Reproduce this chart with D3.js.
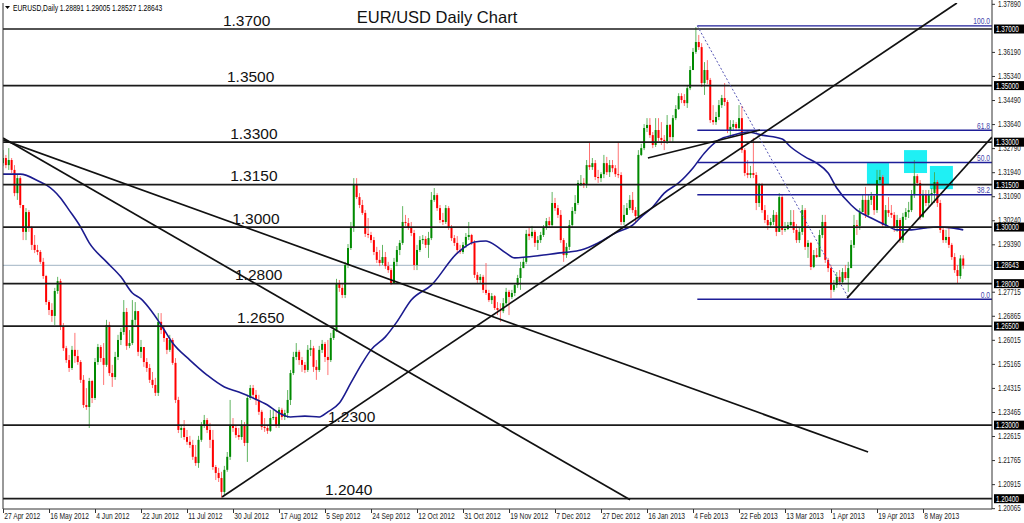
<!DOCTYPE html>
<html><head><meta charset="utf-8">
<script src="https://cdn.jsdelivr.net/npm/d3@7"></script>
<style>body{margin:0;background:#fff;overflow:hidden}svg{display:block}text{font-family:"Liberation Sans",Arial,sans-serif}</style>
</head><body><svg id="c" width="1024" height="523"></svg>
<script>
// ---------------- DATA ----------------
const firstOpen = 1.3226;
const closes = [
1.3244,1.3219,1.3237,1.3202,1.3120,1.3173,1.3078,1.2983,1.3053,1.2997,
1.2937,1.2919,1.2912,1.2877,1.2827,1.2735,1.2707,1.2686,1.2774,1.2809,
1.2647,1.2572,1.2530,1.2502,1.2566,1.2544,1.2523,1.2460,1.2371,1.2364,
1.2456,1.2396,1.2523,1.2576,1.2537,1.2513,1.2654,1.2484,1.2470,1.2541,
1.2601,1.2629,1.2700,1.2580,1.2590,1.2672,1.2703,1.2559,1.2576,1.2523,
1.2502,1.2460,1.2442,1.2414,1.2665,1.2636,1.2608,1.2566,1.2601,1.2520,
1.2389,1.2283,1.2290,1.2258,1.2241,1.2230,1.2188,1.2166,1.2248,1.2301,
1.2318,1.2283,1.2248,1.2152,1.2131,1.2113,1.2064,1.2142,1.2188,1.2301,
1.2290,1.2265,1.2258,1.2301,1.2237,1.2396,1.2431,1.2407,1.2389,1.2347,
1.2294,1.2290,1.2280,1.2325,1.2329,1.2297,1.2354,1.2329,1.2343,1.2389,
1.2484,1.2541,1.2559,1.2530,1.2513,1.2495,1.2566,1.2572,1.2506,1.2495,
1.2566,1.2587,1.2541,1.2530,1.2608,1.2636,1.2802,1.2785,1.2760,1.2866,
1.2926,1.2997,1.3149,1.3106,1.3078,1.3050,1.2976,1.2972,1.2954,1.2912,
1.2884,1.2873,1.2894,1.2862,1.2848,1.2802,1.2877,1.2919,1.2944,1.3018,
1.3014,1.3000,1.2979,1.2866,1.2919,1.2954,1.2958,1.2937,1.2961,1.3096,
1.3113,1.3067,1.3025,1.3018,1.3067,1.3000,1.2961,1.2944,1.2919,1.2912,
1.2937,1.2965,1.2972,1.2944,1.2831,1.2813,1.2824,1.2778,1.2767,1.2742,
1.2756,1.2714,1.2707,1.2703,1.2731,1.2771,1.2753,1.2767,1.2795,1.2820,
1.2855,1.2877,1.2976,1.2968,1.2983,1.2944,1.2954,1.2972,1.2997,1.3021,
1.3007,1.3085,1.3067,1.3043,1.2954,1.2901,1.2930,1.3007,1.3057,1.3085,
1.3156,1.3156,1.3149,1.3219,1.3212,1.3226,1.3177,1.3173,1.3187,1.3226,
1.3194,1.3219,1.3208,1.3187,1.3184,1.3018,1.3043,1.3067,1.3096,1.3060,
1.3039,1.3255,1.3279,1.3350,1.3361,1.3325,1.3290,1.3343,1.3315,1.3308,
1.3304,1.3361,1.3318,1.3385,1.3417,1.3463,1.3449,1.3438,1.3491,1.3555,
1.3619,1.3654,1.3636,1.3509,1.3555,1.3520,1.3378,1.3371,1.3389,1.3431,
1.3456,1.3442,1.3343,1.3354,1.3364,1.3350,1.3385,1.3272,1.3191,1.3184,
1.3191,1.3184,1.3085,1.3149,1.3060,1.3025,1.3007,1.3018,1.3043,1.2983,
1.3106,1.2990,1.2993,1.3007,1.3018,1.2990,1.2954,1.2983,1.3060,1.2930,
1.2944,1.2859,1.2901,1.2894,1.2972,1.3018,1.2884,1.2855,1.2778,1.2795,
1.2824,1.2806,1.2841,1.2820,1.2855,1.2937,1.3007,1.3004,1.3053,1.3096,
1.3043,1.3096,1.3110,1.3060,1.3166,1.3177,1.3007,1.3060,1.3050,1.3043,
1.2997,1.3025,1.2954,1.3036,1.3053,1.3060,1.3113,1.3180,1.3156,1.3036,
1.3117,1.3085,1.3113,1.3120,1.3159,1.3085,1.2990,1.2954,1.2965,1.2937,
1.2894,1.2848,1.2827,1.2889,1.28643];
const highs = [
1.3272,1.3255,1.3279,1.3244,1.3219,1.3184,1.3180,1.3078,1.3067,1.3060,
1.3004,1.2972,1.2937,1.2919,1.2891,1.2831,1.2742,1.2731,1.2785,1.2824,
1.2817,1.2661,1.2580,1.2548,1.2580,1.2626,1.2566,1.2530,1.2477,1.2431,
1.2467,1.2460,1.2537,1.2587,1.2583,1.2590,1.2672,1.2665,1.2513,1.2559,
1.2619,1.2643,1.2742,1.2714,1.2636,1.2742,1.2735,1.2696,1.2601,1.2559,
1.2537,1.2516,1.2488,1.2467,1.2696,1.2696,1.2654,1.2605,1.2619,1.2608,
1.2537,1.2400,1.2301,1.2318,1.2283,1.2262,1.2248,1.2230,1.2262,1.2311,
1.2336,1.2325,1.2308,1.2283,1.2159,1.2149,1.2135,1.2156,1.2205,1.2389,
1.2325,1.2297,1.2290,1.2318,1.2311,1.2407,1.2442,1.2442,1.2424,1.2407,
1.2354,1.2325,1.2297,1.2354,1.2354,1.2347,1.2364,1.2361,1.2354,1.2424,
1.2495,1.2559,1.2590,1.2566,1.2541,1.2523,1.2583,1.2601,1.2580,1.2530,
1.2580,1.2601,1.2594,1.2601,1.2626,1.2647,1.2817,1.2813,1.2802,1.2877,
1.2940,1.3018,1.3173,1.3173,1.3120,1.3096,1.3060,1.3032,1.2983,1.2965,
1.2930,1.2919,1.2937,1.2912,1.2877,1.2855,1.2891,1.2933,1.2954,1.3074,
1.3043,1.3032,1.3018,1.2990,1.2937,1.2968,1.2972,1.2968,1.2983,1.3124,
1.3138,1.3120,1.3078,1.3050,1.3078,1.3074,1.3007,1.2972,1.2968,1.2937,
1.2947,1.2979,1.3018,1.2976,1.2954,1.2841,1.2834,1.2831,1.2873,1.2778,
1.2767,1.2760,1.2735,1.2731,1.2749,1.2785,1.2778,1.2778,1.2802,1.2831,
1.2877,1.2891,1.2990,1.2997,1.3004,1.2990,1.2968,1.2983,1.3007,1.3032,
1.3036,1.3124,1.3103,1.3078,1.3060,1.2961,1.2944,1.3025,1.3071,1.3113,
1.3166,1.3184,1.3173,1.3237,1.3301,1.3244,1.3237,1.3202,1.3194,1.3255,
1.3248,1.3237,1.3237,1.3219,1.3297,1.3194,1.3078,1.3085,1.3113,1.3124,
1.3071,1.3272,1.3294,1.3364,1.3385,1.3385,1.3336,1.3385,1.3385,1.3371,
1.3325,1.3396,1.3364,1.3396,1.3431,1.3473,1.3473,1.3470,1.3502,1.3569,
1.3633,1.3707,1.3679,1.3650,1.3583,1.3590,1.3527,1.3431,1.3407,1.3449,
1.3467,1.3509,1.3449,1.3378,1.3378,1.3371,1.3431,1.3428,1.3279,1.3237,
1.3216,1.3315,1.3194,1.3156,1.3156,1.3078,1.3043,1.3032,1.3060,1.3053,
1.3120,1.3113,1.3018,1.3018,1.3060,1.3060,1.3011,1.2997,1.3078,1.3067,
1.2954,1.2947,1.2919,1.2926,1.2990,1.3043,1.3043,1.2891,1.2866,1.2813,
1.2841,1.2848,1.2855,1.2866,1.2877,1.2954,1.3043,1.3025,1.3067,1.3113,
1.3142,1.3113,1.3124,1.3117,1.3202,1.3202,1.3184,1.3078,1.3106,1.3078,
1.3053,1.3043,1.3032,1.3050,1.3067,1.3089,1.3131,1.3237,1.3187,1.3166,
1.3131,1.3131,1.3131,1.3138,1.3194,1.3166,1.3096,1.2997,1.2990,1.2997,
1.2944,1.2908,1.2866,1.2901,1.29005];
const lows = [
1.3215,1.3208,1.3202,1.3191,1.3109,1.3096,1.3067,1.2954,1.2954,1.2983,
1.2919,1.2908,1.2901,1.2870,1.2817,1.2725,1.2689,1.2665,1.2654,1.2764,
1.2636,1.2562,1.2520,1.2488,1.2495,1.2520,1.2513,1.2449,1.2361,1.2354,
1.2290,1.2378,1.2389,1.2513,1.2523,1.2442,1.2506,1.2474,1.2435,1.2460,
1.2530,1.2583,1.2619,1.2566,1.2572,1.2583,1.2654,1.2544,1.2537,1.2506,
1.2488,1.2449,1.2431,1.2403,1.2403,1.2622,1.2594,1.2551,1.2559,1.2513,
1.2378,1.2272,1.2255,1.2248,1.2230,1.2219,1.2177,1.2156,1.2149,1.2241,
1.2290,1.2272,1.2219,1.2142,1.2106,1.2099,1.2043,1.2053,1.2135,1.2177,
1.2276,1.2255,1.2248,1.2248,1.2226,1.2170,1.2389,1.2396,1.2371,1.2336,
1.2283,1.2276,1.2269,1.2276,1.2318,1.2290,1.2290,1.2318,1.2318,1.2325,
1.2371,1.2477,1.2530,1.2513,1.2488,1.2484,1.2488,1.2544,1.2488,1.2460,
1.2488,1.2555,1.2523,1.2477,1.2523,1.2601,1.2629,1.2771,1.2749,1.2749,
1.2855,1.2919,1.2983,1.3099,1.3067,1.3043,1.2965,1.2961,1.2944,1.2901,
1.2873,1.2862,1.2866,1.2852,1.2838,1.2795,1.2799,1.2862,1.2901,1.2937,
1.3004,1.2990,1.2968,1.2848,1.2848,1.2912,1.2940,1.2926,1.2891,1.2954,
1.3089,1.3057,1.3014,1.3007,1.3011,1.2990,1.2951,1.2933,1.2908,1.2905,
1.2905,1.2926,1.2954,1.2937,1.2820,1.2802,1.2802,1.2767,1.2760,1.2735,
1.2728,1.2707,1.2689,1.2665,1.2696,1.2725,1.2689,1.2746,1.2756,1.2785,
1.2778,1.2855,1.2870,1.2954,1.2961,1.2930,1.2919,1.2944,1.2965,1.2990,
1.3000,1.3000,1.3057,1.3032,1.2944,1.2877,1.2891,1.2919,1.3000,1.3046,
1.3078,1.3145,1.3138,1.3138,1.3202,1.3202,1.3166,1.3156,1.3159,1.3173,
1.3184,1.3177,1.3194,1.3177,1.3173,1.3007,1.3007,1.3043,1.3060,1.3050,
1.3018,1.3032,1.3251,1.3272,1.3336,1.3315,1.3279,1.3283,1.3304,1.3290,
1.3272,1.3294,1.3301,1.3301,1.3378,1.3414,1.3438,1.3428,1.3421,1.3484,
1.3555,1.3612,1.3626,1.3495,1.3467,1.3505,1.3368,1.3361,1.3361,1.3378,
1.3421,1.3428,1.3332,1.3318,1.3343,1.3339,1.3339,1.3262,1.3180,1.3173,
1.3173,1.3173,1.3060,1.3071,1.3050,1.3014,1.2990,1.2997,1.3007,1.2968,
1.2983,1.2972,1.2983,1.2990,1.2997,1.2979,1.2944,1.2944,1.2972,1.2919,
1.2891,1.2848,1.2855,1.2891,1.2894,1.2961,1.2873,1.2841,1.2749,1.2771,
1.2785,1.2795,1.2799,1.2813,1.2771,1.2855,1.2926,1.2972,1.2990,1.3053,
1.3032,1.3036,1.3078,1.3043,1.3050,1.3156,1.2997,1.2997,1.3036,1.3032,
1.2983,1.2983,1.2944,1.2944,1.3025,1.3032,1.3053,1.3103,1.3145,1.3025,
1.3032,1.3074,1.3074,1.3078,1.3085,1.3071,1.2979,1.2944,1.2944,1.2926,
1.2884,1.2838,1.2802,1.2817,1.28527];

// moving average (read at key bars)
const maIdx = [0,6,13,15,20,23,27,30,36,41,45,48,55,59,65,71,77,82,87,92,96,100,105,110,113,117,121,125,128,133,137,142,149,158,164,168,171,175,178,182,188,193,197,201,207,213,219,222,226,230,235,240,244,249,254,259,264,271,274,279,283,287,290,295,297,302,307,311,316,321,325,330,334];
const maVal = [1.3187,1.3187,1.3159,1.3149,1.3103,1.3060,1.3000,1.2944,1.2877,1.2824,1.2767,1.2746,1.2654,1.2590,1.2530,1.2477,1.2435,1.2417,1.2396,1.2371,1.2343,1.2329,1.2332,1.2329,1.2347,1.2378,1.2449,1.2520,1.2566,1.2612,1.2665,1.2742,1.2795,1.2908,1.2947,1.2951,1.2937,1.2908,1.2891,1.2894,1.2901,1.2908,1.2912,1.2919,1.2944,1.2979,1.3007,1.3036,1.3071,1.3120,1.3156,1.3209,1.3262,1.3308,1.3325,1.3336,1.3325,1.3311,1.3283,1.3248,1.3226,1.3191,1.3138,1.3078,1.3060,1.3032,1.3007,1.2990,1.2990,1.2997,1.3000,1.2997,1.2990];

// horizontal support / resistance levels
const levels = [1.3700,1.3500,1.3300,1.3150,1.3000,1.2800,1.2650,1.2300,1.2040];
const levelText = ["1.3700","1.3500","1.3300","1.3150","1.3000","1.2800","1.2650","1.2300","1.2040"];
const lastPrice = 1.28643;
const header = "EURUSD,Daily  1.28891 1.29005 1.28527 1.28643";

// trend lines (bar index, price)
const tlX1 = [0,0,76.2,224.3,293.6];
const tlP1 = [1.3315,1.3308,1.2046,1.3244,1.2749];
const tlX2 = [218.1,300.9,331.8,263.3,344];
const tlP2 = [1.2036,1.2205,1.3792,1.3343,1.3318];

// fibonacci retracement
const fibHigh = 1.3711, fibLow = 1.2745, fibFrom = 241.5, fibTo = 294.3;
const fibLevels = [100, 61.8, 50, 38.2, 0];
const fibText = ["100.0","61.8","50.0","38.2","0.0"];

// highlighted boxes
const boxFrom = [300.5,313.4,322.4];
const boxTo = [308.2,321.4,330.4];
const boxTop = [1.3226,1.3272,1.3216];
const boxBot = [1.3149,1.3191,1.3134];

// axes
const priceTicks = [1.37890,1.36190,1.35340,1.34490,1.33640,1.32790,1.31940,1.31090,1.30240,1.29390,1.27715,1.26865,1.26015,1.25165,1.24315,1.23465,1.22615,1.21765,1.20915,1.20065];
const dateLabels = ["27 Apr 2012","16 May 2012","4 Jun 2012","22 Jun 2012","11 Jul 2012","30 Jul 2012","17 Aug 2012","5 Sep 2012","24 Sep 2012","12 Oct 2012","31 Oct 2012","19 Nov 2012","7 Dec 2012","27 Dec 2012","16 Jan 2013","4 Feb 2013","22 Feb 2013","13 Mar 2013","1 Apr 2013","19 Apr 2013","8 May 2013"];
const dateBars = dateLabels.map((d,i)=>i*16);

// ---------------- LAYOUT ----------------
const L=3, R=992, T=3, B=509;
const SX = 0.745; // horizontal squeeze of the platform's small font
const x = d3.scaleLinear().domain([0,320]).range([3,923]);
const y = d3.scaleLinear().domain([1.204,1.37]).range([498.7,29]);
const svg = d3.select('#c');
svg.append('defs').append('clipPath').attr('id','clip')
  .append('rect').attr('x',L).attr('y',T).attr('width',R-L).attr('height',B-T);
const g = svg.append('g').attr('clip-path','url(#clip)');

// boxes
g.selectAll('rect.box').data(boxFrom).join('rect').attr('class','box')
  .attr('x',(d,i)=>x(d)).attr('width',(d,i)=>x(boxTo[i])-x(d))
  .attr('y',(d,i)=>y(boxTop[i])).attr('height',(d,i)=>y(boxBot[i])-y(boxTop[i]))
  .attr('fill','#1ff0f4');

// last price line
g.append('line').attr('x1',L).attr('x2',R).attr('y1',y(lastPrice)).attr('y2',y(lastPrice))
  .attr('stroke','#b3c2cf').attr('stroke-width',1.2);

// candles
const bars = closes.map((c,i)=>({i, o: i===0?firstOpen:closes[i-1], c, h: highs[i], l: lows[i]}));
const cg = g.append('g');
cg.selectAll('line').data(bars).join('line')
  .attr('x1',d=>x(d.i)).attr('x2',d=>x(d.i))
  .attr('y1',d=>y(Math.max(d.h,d.o,d.c))).attr('y2',d=>y(Math.min(d.l,d.o,d.c)))
  .attr('stroke',d=>d.c>=d.o?'#47a847':'#ff5a5a').attr('stroke-width',1).attr('stroke-opacity',0.85);
cg.selectAll('rect').data(bars).join('rect')
  .attr('x',d=>x(d.i)-1).attr('width',2)
  .attr('y',d=>y(Math.max(d.o,d.c)))
  .attr('height',d=>Math.max(1,Math.abs(y(d.o)-y(d.c))))
  .attr('fill',d=>d.c>=d.o?'#008a00':'#ff0000');

// moving average
g.append('path').datum(maIdx.map((d,i)=>[d,maVal[i]]))
  .attr('d',d3.line().x(d=>x(d[0])).y(d=>y(d[1])).curve(d3.curveMonotoneX))
  .attr('fill','none').attr('stroke','#1b1b8f').attr('stroke-width',1.6);

// level lines
g.selectAll('line.lv').data(levels).join('line').attr('class','lv')
  .attr('x1',L).attr('x2',R).attr('y1',d=>y(d)).attr('y2',d=>y(d))
  .attr('stroke','#1a1a1a').attr('stroke-width',1.7);

// fib
const fibPrice = fibLevels.map(l=>fibLow+(fibHigh-fibLow)*l/100);
g.selectAll('line.fib').data(fibPrice).join('line').attr('class','fib')
  .attr('x1',x(fibFrom)).attr('x2',R).attr('y1',d=>y(d)).attr('y2',d=>y(d))
  .attr('stroke','#1e1e98').attr('stroke-width',1.4);
g.append('line').attr('x1',x(fibFrom)).attr('y1',y(fibHigh)).attr('x2',x(fibTo)).attr('y2',y(fibLow))
  .attr('stroke','#5555b5').attr('stroke-width',1).attr('stroke-dasharray','2,2');
fibPrice.forEach((p,i)=>{
  g.append('text').attr('transform',`translate(${R-2},${y(p)-1.5}) scale(${SX},1)`)
   .attr('text-anchor','end').attr('font-size',9).attr('fill','#4646ad').text(fibText[i]);
});

// trend lines
g.selectAll('line.tl').data(tlX1).join('line').attr('class','tl')
  .attr('x1',d=>x(d)).attr('y1',(d,i)=>y(tlP1[i]))
  .attr('x2',(d,i)=>x(tlX2[i])).attr('y2',(d,i)=>y(tlP2[i]))
  .attr('stroke','#111').attr('stroke-width',1.7);

// level labels
const labelBar = [76.5,77.9,79,79,79.7,80.7,81.4,113,112];
levels.forEach((p,i)=>{
  svg.append('text').attr('x',x(labelBar[i])).attr('y',y(p)-3.5)
    .attr('font-size',15.5).attr('fill','#111').text(levelText[i]);
});

// title
svg.append('text').attr('x',437).attr('y',23).attr('text-anchor','middle')
  .attr('font-size',16.5).attr('fill','#111').text('EUR/USD Daily Chart');

// header
svg.append('path').attr('d','M5,6 L10,6 L7.5,9 Z').attr('fill','#000');
svg.append('text').attr('transform',`translate(13,10.5) scale(${SX},1)`)
  .attr('font-size',9).attr('fill','#000').text(header);

// frame
svg.append('path').attr('d',`M${L},${T} V${B} H${R} V0`).attr('fill','none').attr('stroke','#333').attr('stroke-width',1);

// right axis
const ya = svg.append('g').attr('transform',`translate(${R},0)`)
  .call(d3.axisRight(y).tickValues(priceTicks).tickFormat(d3.format('.5f')).tickSize(3).tickPadding(2));
ya.select('.domain').remove();
ya.selectAll('line').attr('stroke','#333');
ya.selectAll('text').attr('font-size',8.5).attr('font-family','"Liberation Sans",Arial,sans-serif')
  .attr('fill','#222').attr('transform',`scale(${SX},1)`).attr('x',6/SX).attr('dy','0.3em');

// price boxes
const boxed = levels.map(d=>d).concat([lastPrice]);
boxed.forEach(p=>{
  const yy = y(p);
  svg.append('rect').attr('x',R+2).attr('y',yy-4.5).attr('width',1024-R-2).attr('height',9).attr('fill','#000');
  svg.append('text').attr('transform',`translate(${R+4},${yy+3}) scale(${SX},1)`)
    .attr('font-size',8.5).attr('fill','#fff').text(d3.format('.5f')(p));
});

// bottom axis
const xa = svg.append('g').attr('transform',`translate(0,${B})`)
  .call(d3.axisBottom(x).tickValues(dateBars).tickFormat((d,i)=>dateLabels[i]).tickSize(4).tickPadding(2));
xa.select('.domain').remove();
xa.selectAll('line').attr('stroke','#333');
xa.selectAll('text').attr('font-size',9).attr('font-family','"Liberation Sans",Arial,sans-serif')
  .attr('fill','#222').attr('text-anchor','start').attr('dy','0').attr('y',10.5)
  .attr('x',1).attr('transform',`scale(${SX},1)`);
</script></body></html>
